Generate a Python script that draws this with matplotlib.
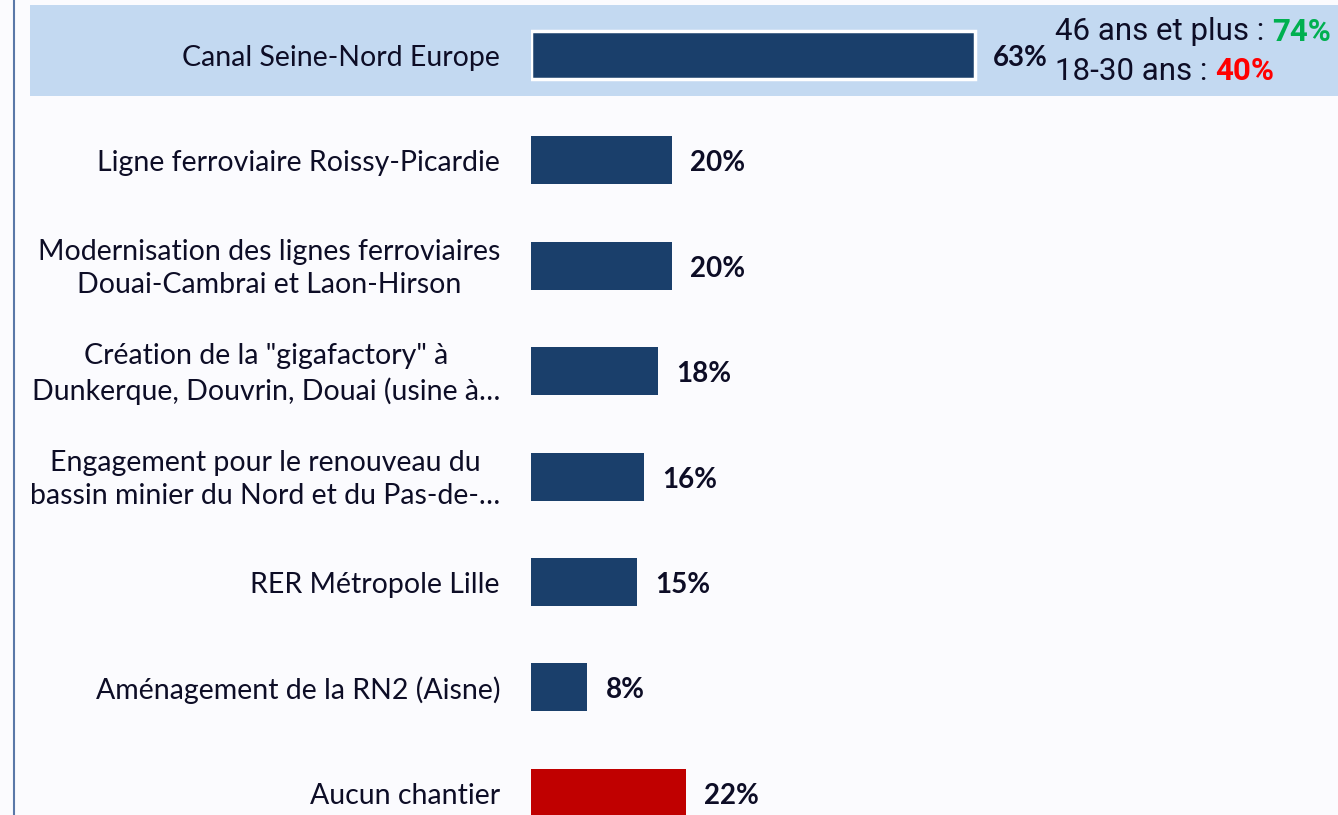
import matplotlib
matplotlib.use("Agg")
import matplotlib.pyplot as plt
from matplotlib.patches import Rectangle

categories = [
    "Canal Seine-Nord Europe",
    "Ligne ferroviaire Roissy-Picardie",
    "Modernisation des lignes ferroviaires\nDouai-Cambrai et Laon-Hirson",
    "Création de la \"gigafactory\" à\nDunkerque, Douvrin, Douai (usine à…",
    "Engagement pour le renouveau du\nbassin minier du Nord et du Pas-de-…",
    "RER Métropole Lille",
    "Aménagement de la RN2 (Aisne)",
    "Aucun chantier",
]
values = [63, 20, 20, 18, 16, 15, 8, 22]
value_labels = ["63%", "20%", "20%", "18%", "16%", "15%", "8%", "22%"]
annot_older = ("46 ans et plus : ", "74%")
annot_young = ("18-30 ans : ", "40%")

NAVY = "#1A3F6B"
RED = "#C00000"
BG = "#FBFBFE"
BAND = "#C3D9F1"
TXT = "#0D0D26"

W, H = 1338, 815
fig = plt.figure(figsize=(W / 100, H / 100), dpi=100, facecolor=BG)

px_per_pct = 7.05
row_h = 105.4
y0 = 55
x0 = 531
ax = fig.add_axes([x0 / W, 0, 1 - x0 / W, 1])
ax.set_facecolor("none")
ax.set_xlim(0, (W - x0) / px_per_pct)
ax.set_ylim((H - y0) / row_h, -y0 / row_h)
ax.axis("off")

# highlight band and left border (figure coordinates)
ax.add_patch(Rectangle((30 / W, 1 - 96 / H), 1 - 30 / W, 91 / H,
                       transform=fig.transFigure, facecolor=BAND,
                       edgecolor="none", zorder=0, clip_on=False))
fig.add_artist(plt.Line2D([14 / W, 14 / W], [0, 1], transform=fig.transFigure,
                          color="#5A78A8", lw=1.5))

colors = [NAVY] * (len(values) - 1) + [RED]
ypos = list(range(len(values)))
bars = ax.barh(ypos, values, height=48 / row_h, color=colors, zorder=3)
bars[0].set_edgecolor("white")
bars[0].set_linewidth(2.5)

fam = ["Lato", "DejaVu Sans"]
for i, (lab, v, vl) in enumerate(zip(categories, values, value_labels)):
    ax.annotate(lab, xy=(0, i), xytext=(-31, -3), textcoords="offset pixels",
                ha="right", va="center", multialignment="center",
                fontsize=20.5, color=TXT, family=fam, linespacing=1.35,
                annotation_clip=False, zorder=5)
    ax.annotate(vl, xy=(v, i), xytext=(18, -3), textcoords="offset pixels",
                ha="left", va="center", fontsize=20, fontweight="bold",
                color=TXT, family=fam, annotation_clip=False, zorder=5)

# annotation for first bar
rfam = ["Roboto", "DejaVu Sans"]
fs = 22.5
t1 = fig.text(1055 / W, 1 - 32 / H, annot_older[0], fontsize=fs, color=TXT,
              family=rfam, ha="left", va="center")
fig.canvas.draw()
bb = t1.get_window_extent()
fig.text(bb.x1 / W, 1 - 32 / H, annot_older[1], fontsize=fs, color="#00B050",
         family=rfam, fontweight="bold", ha="left", va="center")
t2 = fig.text(1055 / W, 1 - 71 / H, annot_young[0], fontsize=fs, color=TXT,
              family=rfam, ha="left", va="center")
fig.canvas.draw()
bb2 = t2.get_window_extent()
fig.text(bb2.x1 / W, 1 - 71 / H, annot_young[1], fontsize=fs, color="#FF0000",
         family=rfam, fontweight="bold", ha="left", va="center")

fig.savefig("out.png", dpi=100, facecolor=BG)
